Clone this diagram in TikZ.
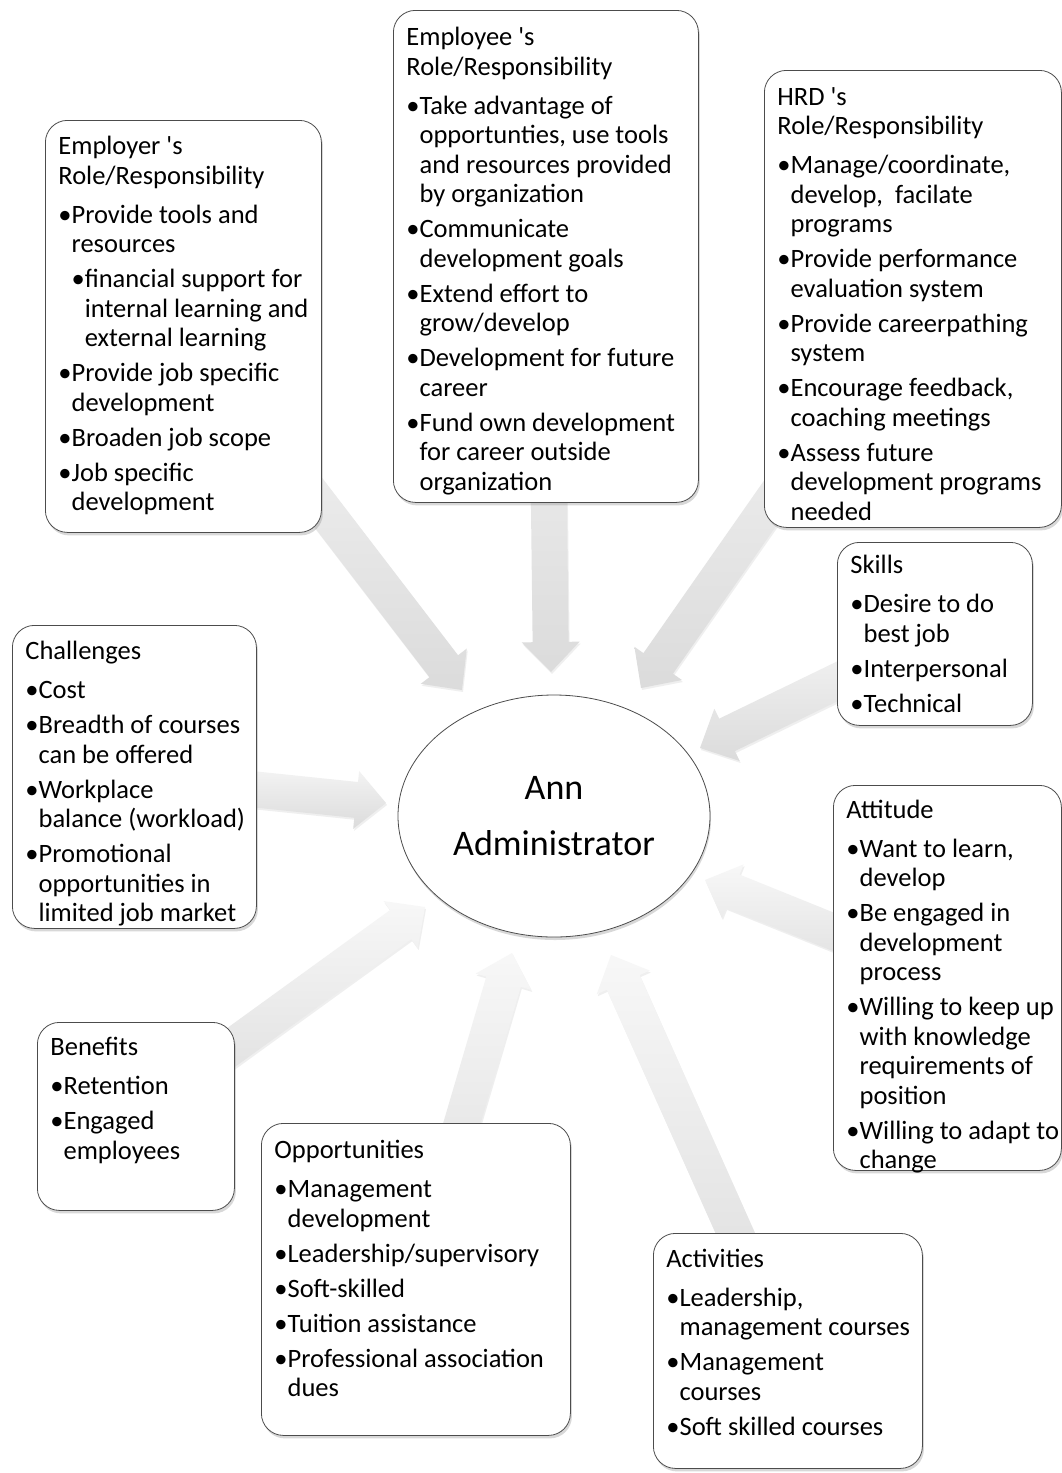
\documentclass[tikz,border=0pt]{standalone}
\usepackage{fontspec}
\setmainfont{Carlito}[Ligatures=TeXOff]
\usetikzlibrary{calc,shadows,shapes.geometric,backgrounds}

% bullet item with hanging indent
\newcommand\bul{•}
\newcommand\itm{\par\setbox0=\hbox{\bul}\hangindent=\wd0 \hangafter=1 \noindent\copy0 }
\newcommand\subitm{\par\setbox0=\hbox{\bul}\hangindent=2\wd0 \hangafter=1 \noindent\hbox to\wd0{}\copy0 }
% card contents: width, height, first-baseline offset, text
\newcommand\cardbody[4]{%
  \begin{minipage}[t][#2pt][t]{#1pt}%
    \fontsize{26.5pt}{29.5pt}\selectfont
    \setlength\parskip{5.5pt}%
    \raggedright\leftskip=13pt \rightskip=-40pt plus 1fil
    \noindent\rule{0pt}{#3pt}#4%
  \end{minipage}}
\newcommand\cardhead[1]{#1\par\vspace{4pt}}

% block arrow from a box to a tip coordinate
\newcommand\flowarrow[2]{%
  \coordinate (hb) at ($(#2)!30pt!(#1)$);
  \path[flow] ($(#1)!18pt!90:(#2)$) -- ($(hb)!18pt!-90:(#1)$)
    -- ($(hb)!29pt!-90:(#1)$) -- (#2) -- ($(hb)!29pt!90:(#1)$)
    -- ($(hb)!18pt!90:(#1)$) -- ($(#1)!18pt!-90:(#2)$) -- cycle;}

\tikzset{
  card/.style={draw=black!70, line width=0.8pt, fill=white, rounded corners=22pt,
    inner sep=0pt, anchor=north west,
    drop shadow={shadow xshift=1.5pt, shadow yshift=-3pt, opacity=0.3}},
  hub/.style={ellipse, draw=black!70, line width=0.8pt, fill=white,
    minimum width=312pt, minimum height=242pt, inner sep=0pt, align=center,
    font=\fontsize{36pt}{56pt}\selectfont,
    drop shadow={shadow xshift=1pt, shadow yshift=-3pt, opacity=0.3}},
  flow/.style={top color=black!3, bottom color=black!14, draw=none,
    drop shadow={shadow xshift=1pt, shadow yshift=-2pt, opacity=0.12}}
}

\begin{document}
\begin{tikzpicture}[x=1pt,y=-1pt]
\useasboundingbox (0,0) rectangle (1062,1473);

\node[hub] (ann) at (554,816) {Ann\\Administrator};

\node[card] (employer) at (45,120) {\cardbody{276}{412}{34.5}{%
  \cardhead{Employer 's\newline Role/Responsibility}
  \itm Provide tools and\newline resources
  \subitm financial support for\newline internal learning and\newline external learning
  \itm Provide job specific\newline development
  \itm Broaden job scope
  \itm Job specific\newline development}};

\node[card] (employee) at (393,10) {\cardbody{305}{492}{35.5}{%
  \cardhead{Employee 's\newline Role/Responsibility}
  \itm Take advantage of\newline opportunties, use tools\newline and resources provided\newline by organization
  \itm Communicate\newline development goals
  \itm Extend effort to\newline grow/develop
  \itm Development for future\newline career
  \itm Fund own development\newline for career outside\newline organization}};

\node[card] (hrd) at (764,70) {\cardbody{297}{457}{35}{%
  \cardhead{HRD 's\newline Role/Responsibility}
  \itm Manage/coordinate,\newline develop, \ facilate\newline programs
  \itm Provide performance\newline evaluation system
  \itm Provide careerpathing\newline system
  \itm Encourage feedback,\newline coaching meetings
  \itm Assess future\newline development programs\newline needed}};

\node[card] (skills) at (837,542) {\cardbody{195}{183}{31.5}{%
  \cardhead{Skills}
  \itm Desire to do\newline best job
  \itm Interpersonal
  \itm Technical}};

\node[card] (challenges) at (12,625) {\cardbody{244}{303}{34.5}{%
  \cardhead{Challenges}
  \itm Cost
  \itm Breadth of courses\newline can be offered
  \itm Workplace\newline balance (workload)
  \itm Promotional\newline opportunities in\newline limited job market}};

\node[card] (attitude) at (833,785) {\cardbody{228}{385}{33}{%
  \cardhead{Attitude}
  \itm Want to learn,\newline develop
  \itm Be engaged in\newline development\newline process
  \itm Willing to keep up\newline with knowledge\newline requirements of\newline position
  \itm Willing to adapt to\newline change}};

\node[card] (benefits) at (37,1022) {\cardbody{197}{188}{33.5}{%
  \cardhead{Benefits}
  \itm Retention
  \itm Engaged\newline employees}};

\node[card] (opportunities) at (261,1123) {\cardbody{309}{312}{35.5}{%
  \cardhead{Opportunities}
  \itm Management\newline development
  \itm Leadership/supervisory
  \itm Soft-skilled
  \itm Tuition assistance
  \itm Professional association\newline dues}};

\node[card] (activities) at (653,1233) {\cardbody{269}{235}{34}{%
  \cardhead{Activities}
  \itm Leadership,\newline management courses
  \itm Management\newline courses
  \itm Soft skilled courses}};

% arrow tips around the central ellipse
\coordinate (tEmployer) at (462,690);
\coordinate (tEmployee) at (551,672);
\coordinate (tHRD) at (641,688);
\coordinate (tSkills) at (700,748);
\coordinate (tAttitude) at (705,880);
\coordinate (tActivities) at (611,955);
\coordinate (tOpportunities) at (512,953);
\coordinate (tBenefits) at (425,907);
\coordinate (tChallenges) at (386,803);

\begin{scope}[on background layer]
  \fill[white] (0,0) rectangle (1062,1473);
  \flowarrow{employer.center}{tEmployer}
  \flowarrow{employee.center}{tEmployee}
  \flowarrow{hrd.center}{tHRD}
  \flowarrow{skills.center}{tSkills}
  \flowarrow{attitude.center}{tAttitude}
  \flowarrow{activities.center}{tActivities}
  \flowarrow{opportunities.center}{tOpportunities}
  \flowarrow{benefits.center}{tBenefits}
  \flowarrow{challenges.center}{tChallenges}
\end{scope}
\end{tikzpicture}
\end{document}
